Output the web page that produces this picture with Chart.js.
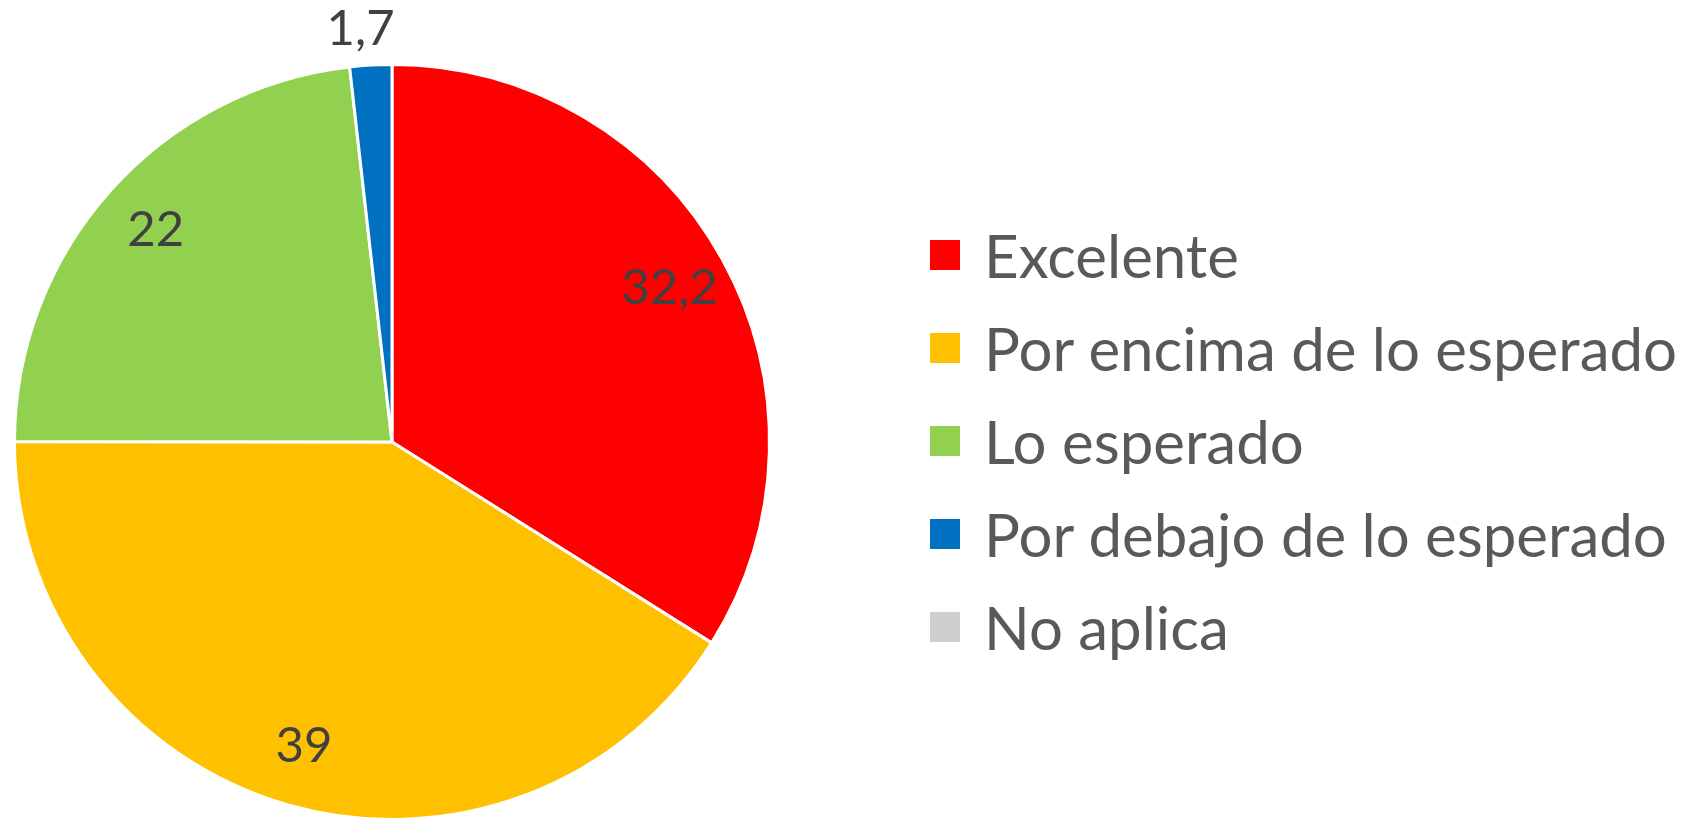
<!DOCTYPE html>
<html>
<head>
<meta charset="utf-8">
<script src="https://cdn.jsdelivr.net/npm/chart.js@4/dist/chart.umd.min.js"></script>
<style>
  html, body { margin: 0; padding: 0; background: #fff; }
  #wrap { position: relative; width: 1692px; height: 821px; overflow: hidden; }
  #pie { position: absolute; left: 0; top: 0; }
  #legend { position: absolute; left: 930px; top: 208px; font-family: 'Lato', sans-serif; font-size: 60px; color: #595959; }
  .row { display: flex; align-items: center; height: 93px; white-space: nowrap; }
  .box { width: 30px; height: 30px; margin-right: 24px; flex: none; }
</style>
</head>
<body>
<div id="wrap">
  <canvas id="pie" width="1692" height="821"></canvas>
  <div id="legend"></div>
</div>
<script>
const categories = ['Excelente', 'Por encima de lo esperado', 'Lo esperado', 'Por debajo de lo esperado', 'No aplica'];
const values = [32.2, 39, 22, 1.7, 0];
const valueLabels = ['32,2', '39', '22', '1,7', ''];
const colors = ['#FF0000', '#FFC000', '#92D050', '#0070C0', '#D0CECE'];

// legend built from the same arrays
const legendEl = document.getElementById('legend');
categories.forEach((name, i) => {
  const row = document.createElement('div');
  row.className = 'row';
  row.innerHTML = '<span class="box" style="background:' + colors[i] + '"></span><span>' + name + '</span>';
  legendEl.appendChild(row);
});

// slice value labels: inside for big slices, outside for tiny ones
const sliceLabels = {
  id: 'sliceLabels',
  afterDatasetsDraw(chart) {
    const ctx = chart.ctx;
    const meta = chart.getDatasetMeta(0);
    const total = values.reduce((a, b) => a + b, 0);
    ctx.save();
    ctx.font = '49px Lato';
    ctx.fillStyle = '#404040';
    ctx.textBaseline = 'middle';
    ctx.textAlign = 'center';
    meta.data.forEach((arc, i) => {
      if (!valueLabels[i]) return;
      const p = arc.getProps(['x', 'y', 'startAngle', 'endAngle', 'outerRadius'], true);
      const mid = (p.startAngle + p.endAngle) / 2;
      const small = values[i] / total < 0.05;
      const r = small ? p.outerRadius + 36 : p.outerRadius * 0.84;
      let x = p.x + Math.cos(mid) * r;
      const y = p.y + Math.sin(mid) * r;
      if (small) {
        // nudge outside label toward its side of the pie
        x += (x < p.x ? -1 : 1) * ctx.measureText(valueLabels[i]).width * 0.12;
      }
      ctx.fillText(valueLabels[i], x, y);
    });
    ctx.restore();
  }
};

new Chart(document.getElementById('pie'), {
  type: 'pie',
  data: {
    labels: categories,
    datasets: [{
      data: values,
      backgroundColor: colors,
      borderColor: '#ffffff',
      borderWidth: 3
    }]
  },
  options: {
    responsive: false,
    animation: false,
    layout: {
      padding: { left: 11, top: 63, right: 919, bottom: -3 }
    },
    plugins: {
      legend: { display: false },
      tooltip: { enabled: false }
    }
  },
  plugins: [sliceLabels]
});
</script>
</body>
</html>
